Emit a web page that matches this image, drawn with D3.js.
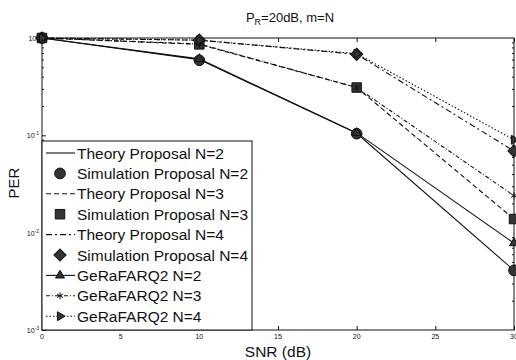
<!DOCTYPE html>
<html>
<head>
<meta charset="utf-8">
<script src="https://cdn.jsdelivr.net/npm/d3@7"></script>
<style>
body { margin: 0; background: #fff; }
text { font-family: "Liberation Sans", Arial, sans-serif; fill: #111; }
</style>
</head>
<body>
<svg width="516" height="360"></svg>
<script>
// data
var snr = [0, 10, 20, 30];
var theoryN2 = [1, 0.60, 0.105, 0.0041];
var simN2 = [1, 0.59, 0.104, 0.0041];
var theoryN3 = [1, 0.86, 0.31, 0.0138];
var simN3 = [1, 0.86, 0.31, 0.0138];
var theoryN4 = [1, 0.95, 0.68, 0.069];
var simN4 = [1, 0.95, 0.68, 0.069];
var geraN2 = [1, 0.61, 0.106, 0.0078];
var geraN3 = [1, 0.87, 0.31, 0.024];
var geraN4 = [1, 0.95, 0.69, 0.09];
var xTicks = [0, 5, 10, 15, 20, 25, 30];
var yTicks = [1, 0.1, 0.01, 0.001];

var series = [
  {name: "Theory Proposal N=2", values: theoryN2, dash: null, line: true, sym: null},
  {name: "Simulation Proposal N=2", values: simN2, dash: null, line: false, sym: d3.symbolCircle},
  {name: "Theory Proposal N=3", values: theoryN3, dash: "5,3", line: true, sym: null},
  {name: "Simulation Proposal N=3", values: simN3, dash: null, line: false, sym: d3.symbolSquare},
  {name: "Theory Proposal N=4", values: theoryN4, dash: "6,3,2,3", line: true, sym: null},
  {name: "Simulation Proposal N=4", values: simN4, dash: null, line: false, sym: "diamond"},
  {name: "GeRaFARQ2 N=2", values: geraN2, dash: null, line: true, sym: d3.symbolTriangle},
  {name: "GeRaFARQ2 N=3", values: geraN3, dash: "4,2,1,2", line: true, sym: d3.symbolAsterisk},
  {name: "GeRaFARQ2 N=4", values: geraN4, dash: "1.5,2", line: true, sym: "right"}
];

var svg = d3.select("svg");
var pLeft = 42, pRight = 514, pTop = 38, pBottom = 330;
var xs = d3.scaleLinear().domain([0, 30]).range([pLeft, pRight]);
var ys = d3.scaleLog().domain([0.001, 1]).range([pBottom, pTop]);

function bigSym(s) {
  return s.sym === d3.symbolCircle || s.sym === d3.symbolSquare || s.sym === "diamond";
}
function symRotate(s) {
  return s.sym === "right" ? " rotate(90)" : s.sym === "diamond" ? " rotate(45)" : "";
}
function marker(sel, s) {
  var sym = s.sym === "right" ? d3.symbolTriangle : s.sym === "diamond" ? d3.symbolSquare : s.sym;
  sel.attr("d", d3.symbol().type(sym).size(s.sym === "diamond" ? 75 : bigSym(s) ? 90 : 35))
    .attr("fill", s.sym === d3.symbolAsterisk ? "none" : "#333")
    .attr("stroke", "#111")
    .attr("stroke-width", 1);
}

// box
svg.append("rect").attr("x", pLeft).attr("y", pTop)
  .attr("width", pRight - pLeft).attr("height", pBottom - pTop)
  .attr("fill", "none").attr("stroke", "#111").attr("stroke-width", 1);

// y axis (log) with minor ticks
var minor = [];
for (var e = -3; e < 0; e++) for (var k = 2; k <= 9; k++) minor.push(k * Math.pow(10, e));
svg.append("g").attr("transform", "translate(" + pLeft + ",0)")
  .call(d3.axisRight(ys).tickValues(minor).tickSize(2).tickFormat(""))
  .call(function(g) { g.select(".domain").remove(); });
svg.append("g").attr("transform", "translate(" + pRight + ",0)")
  .call(d3.axisLeft(ys).tickValues(minor).tickSize(2).tickFormat(""))
  .call(function(g) { g.select(".domain").remove(); });
svg.append("g").attr("transform", "translate(" + pLeft + ",0)")
  .call(d3.axisRight(ys).tickValues(yTicks).tickSize(4).tickFormat(""))
  .call(function(g) { g.select(".domain").remove(); });

var yl = svg.append("g").selectAll("text").data(yTicks).enter().append("text")
  .attr("x", pLeft - 3).attr("y", function(d) { return ys(d) + 3; })
  .attr("text-anchor", "end").style("font-size", "7px");
yl.append("tspan").text("10");
yl.append("tspan").attr("dy", -3).style("font-size", "5px")
  .text(function(d) { var p = Math.round(Math.log10(d)); return p === 0 ? "0" : "-" + (-p); });

// x axis
svg.append("g").attr("transform", "translate(0," + pBottom + ")")
  .call(d3.axisTop(xs).tickValues(xTicks).tickSize(4).tickFormat(""))
  .call(function(g) { g.select(".domain").remove(); });
svg.append("g").attr("transform", "translate(0," + pTop + ")")
  .call(d3.axisBottom(xs).tickValues(xTicks).tickSize(4).tickFormat(""))
  .call(function(g) { g.select(".domain").remove(); });
svg.append("g").selectAll("text").data(xTicks).enter().append("text")
  .attr("x", function(d) { return xs(d); }).attr("y", pBottom + 9)
  .attr("text-anchor", "middle").style("font-size", "7px")
  .text(function(d) { return d; });
svg.selectAll(".tick line").attr("stroke", "#111");

// curves
var line = d3.line().x(function(d, i) { return xs(snr[i]); }).y(function(d) { return ys(d); });
series.forEach(function(s) {
  if (s.line) {
    svg.append("path").datum(s.values).attr("d", line)
      .attr("fill", "none").attr("stroke", "#111").attr("stroke-width", 1.1)
      .attr("stroke-dasharray", s.dash);
  }
});
series.forEach(function(s) {
  if (!s.sym) return;
  svg.append("g").selectAll("path").data(s.values).enter().append("path")
    .attr("transform", function(d, i) {
      return "translate(" + xs(snr[i]) + "," + ys(d) + ")" + symRotate(s);
    })
    .call(marker, s);
});

// legend
var lg = svg.append("g");
lg.append("rect").attr("x", pLeft).attr("y", 141).attr("width", 210).attr("height", pBottom - 141)
  .attr("fill", "#fff").attr("stroke", "#111").attr("stroke-width", 1);
series.forEach(function(s, i) {
  var y = 153 + i * 20.4;
  if (s.line) {
    lg.append("line").attr("x1", 46).attr("x2", 75).attr("y1", y).attr("y2", y)
      .attr("stroke", "#111").attr("stroke-width", 1.1).attr("stroke-dasharray", s.dash);
  }
  if (s.sym) {
    lg.append("path").attr("transform", "translate(60," + y + ")" + symRotate(s))
      .call(marker, s);
  }
  lg.append("text").attr("x", 77).attr("y", y + 5.5).style("font-size", "15.5px").text(s.name);
});

// titles
var t = svg.append("text").attr("x", 290).attr("y", 22).attr("text-anchor", "middle").style("font-size", "13px");
t.append("tspan").text("P");
t.append("tspan").attr("dy", 3).style("font-size", "9px").text("R");
t.append("tspan").attr("dy", -3).text("=20dB, m=N");
svg.append("text").attr("x", 278).attr("y", 357).attr("text-anchor", "middle")
  .style("font-size", "15.5px").text("SNR (dB)");
svg.append("text").attr("transform", "translate(19,183) rotate(-90)").attr("text-anchor", "middle")
  .style("font-size", "15px").text("PER");
</script>
</body>
</html>
